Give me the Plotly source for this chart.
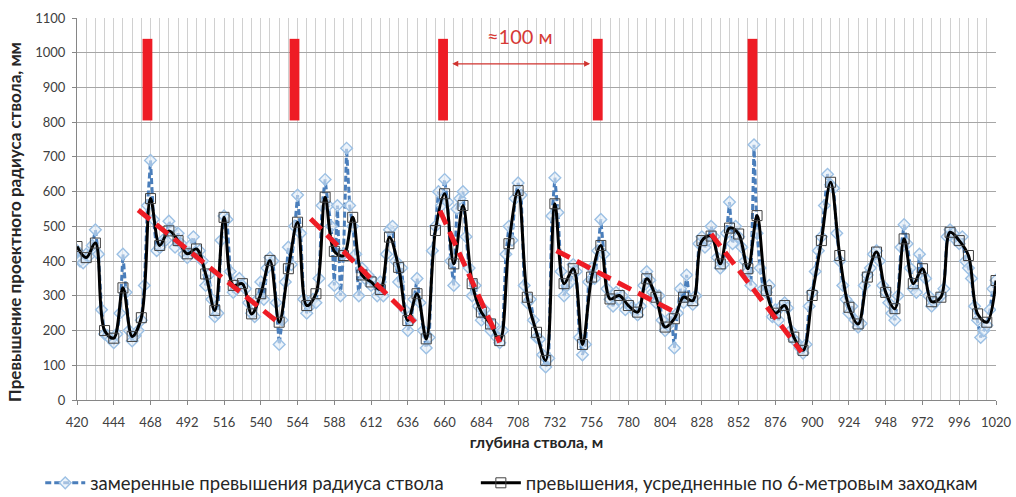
import plotly.graph_objects as go

# Depth grid of the averaged series: one point per 6-metre round
avg_depth = list(range(420, 1021, 6))
avg_values = [
    442, 410, 452, 200, 178, 323, 183, 237, 580, 445,
    487, 459, 421, 435, 363, 258, 526, 330, 335, 248,
    306, 402, 224, 378, 512, 272, 306, 584, 428, 416,
    526, 360, 340, 318, 469, 382, 229, 306, 176, 488,
    594, 392, 560, 335, 253, 219, 171, 450, 603, 296,
    195, 114, 565, 335, 378, 160, 354, 445, 291, 301,
    272, 253, 349, 296, 210, 234, 296, 286, 459, 472,
    392, 495, 478, 378, 531, 315, 250, 272, 181, 143,
    301, 459, 627, 416, 267, 219, 354, 426, 310, 263,
    464, 335, 378, 283, 296, 483, 459, 416, 248, 224,
    344,
]

# Measured excess of the shaft radius, every 2 m
meas_depth = list(range(420, 1021, 2))
meas_values = [
    430, 400,
    395, 420, 415, 445, 490, 420, 260, 190, 185, 175, 165, 190,
    250, 420, 310, 200, 170, 185, 200, 230, 330, 560, 690, 520,
    430, 440, 460, 460, 515, 490, 440, 480, 450, 420, 410, 445,
    470, 420, 430, 400, 330, 360, 290, 240, 250, 460, 530, 520,
    370, 310, 320, 350, 330, 320, 280, 250, 240, 290, 340, 290,
    380, 410, 400, 280, 160, 230, 340, 440, 390, 500, 590, 480,
    290, 250, 270, 290, 280, 350, 560, 635, 560, 500, 330, 560,
    300, 420, 725, 560, 500, 420, 300, 380, 350, 360, 330, 340,
    300, 340, 300, 420, 490, 500, 400, 340, 380, 260, 200, 230,
    290, 350, 280, 200, 150, 180, 430, 500, 600, 560, 635, 570,
    400, 330, 550, 580, 600, 470, 380, 300, 330, 270, 230, 260,
    230, 200, 215, 180, 165, 200, 420, 500, 460, 580, 625, 590,
    330, 280, 290, 230, 180, 175, 130, 95, 120, 530, 640, 540,
    370, 300, 330, 340, 390, 370, 180, 130, 160, 340, 380, 350,
    430, 520, 420, 320, 290, 270, 310, 290, 300, 260, 280, 265,
    260, 245, 270, 330, 370, 345, 310, 280, 300, 230, 200, 215,
    240, 150, 250, 320, 280, 360, 290, 275, 300, 450, 470, 440,
    460, 500, 470, 410, 380, 390, 480, 570, 450, 500, 470, 440,
    400, 370, 330, 735, 480, 380, 320, 310, 330, 240, 260, 230,
    270, 280, 265, 200, 175, 165, 150, 135, 160, 270, 310, 370,
    430, 470, 560, 650, 620, 610, 480, 400, 330, 290, 250, 270,
    230, 210, 220, 330, 360, 380, 420, 430, 400, 330, 310, 280,
    250, 230, 300, 440, 505, 450, 380, 320, 310, 420, 360, 350,
    300, 270, 280, 290, 300, 320, 470, 490, 480, 460, 450, 470,
    400, 380, 350, 270, 230, 180, 200, 215, 260,
    320, 345,
]

# Decreasing trends after each peak: (start depth, start value, end depth, end value)
trend_segments = [
    (460, 547, 552.5, 219),
    (572.5, 522, 640.6, 224),
    (657, 545, 696, 166),
    (733, 430, 812.5, 248),
    (834, 478, 893, 138),
]

# Depths of the peak markers and their vertical extent
marker_depths = [466, 562, 659, 760, 861]
marker_half_width = 3.2
marker_bottom, marker_top = 805, 1040

# Spacing annotation between two markers
span_from, span_to, span_level = 664, 755, 968
span_label = "≈100 м"

FONT = "Lato"
RED = "#ee1c25"

fig = go.Figure()

fig.add_trace(go.Scatter(
    x=meas_depth, y=meas_values, mode="lines+markers",
    name="замеренные превышения радиуса ствола", legend="legend",
    line=dict(color="#4a7ebb", width=3, dash="6px,3px"),
    marker=dict(symbol="diamond", size=9, color="rgba(225,236,248,0.6)",
                line=dict(color="#9cc0e4", width=1.4)),
))

fig.add_trace(go.Scatter(
    x=avg_depth, y=avg_values, mode="lines+markers",
    name="превышения, усредненные по 6-метровым заходкам", legend="legend2",
    line=dict(color="#000000", width=3, shape="spline", smoothing=1.0),
    marker=dict(symbol="square-open", size=10, color="#404040",
                line=dict(width=1)),
))

for x0, y0, x1, y1 in trend_segments:
    fig.add_trace(go.Scatter(
        x=[x0, x1], y=[y0, y1], mode="lines", showlegend=False,
        line=dict(color=RED, width=5, dash="15px,8px"), hoverinfo="skip",
    ))

shapes = []
for d in marker_depths:
    shapes.append(dict(
        type="rect", xref="x", yref="y",
        x0=d - marker_half_width, x1=d + marker_half_width,
        y0=marker_bottom, y1=marker_top,
        fillcolor=RED, line=dict(width=0), layer="above",
    ))

annotations = [
    dict(x=span_to, y=span_level, ax=span_from, ay=span_level,
         xref="x", yref="y", axref="x", ayref="y", text="",
         showarrow=True, arrowside="end+start", arrowhead=2,
         arrowsize=1, arrowwidth=1.2, arrowcolor="#d0332f"),
    dict(x=(span_from + span_to) / 2, y=1049, xref="x", yref="y",
         text=span_label, showarrow=False,
         font=dict(family=FONT, size=20, color="#d63a36")),
    dict(x=-0.068, y=0.465, xref="paper", yref="paper", textangle=-90,
         text="<b>Превышение проектного радиуса ствола, мм</b>",
         showarrow=False, xanchor="center", yanchor="middle",
         font=dict(family=FONT, size=17, color="#262626")),
]

legend_style = dict(orientation="h", y=-0.218, yanchor="middle", xanchor="left",
                    font=dict(family=FONT, size=18.5, color="#262626"),
                    itemwidth=40, bgcolor="rgba(0,0,0,0)")

fig.update_layout(
    width=1016, height=497,
    margin=dict(l=77, r=20, t=18, b=97, autoexpand=False),
    paper_bgcolor="white", plot_bgcolor="white",
    font=dict(family=FONT, size=13, color="#404040"),
    shapes=shapes, annotations=annotations,
    legend=dict(x=-0.04, **legend_style),
    legend2=dict(x=0.434, **legend_style),
    xaxis=dict(
        range=[420, 1020], tick0=420, dtick=24,
        showgrid=True, gridcolor="#d0d0d0", gridwidth=1,
        minor=dict(tick0=420, dtick=6, showgrid=True, gridcolor="#d0d0d0"),
        ticks="outside", ticklen=4, tickcolor="#868686",
        ticklabelstandoff=6,
        showline=True, linecolor="#868686", zeroline=False,
        title=dict(text="<b>глубина ствола, м</b>", standoff=8,
                   font=dict(family=FONT, size=16, color="#262626")),
    ),
    yaxis=dict(
        range=[0, 1100], tick0=0, dtick=100,
        showgrid=True, gridcolor="#a6a6a6", gridwidth=1,
        ticks="outside", ticklen=4, tickcolor="#868686",
        ticklabelstandoff=4,
        showline=True, linecolor="#868686", zeroline=False,
    ),
)

fig.write_html("out.html")
